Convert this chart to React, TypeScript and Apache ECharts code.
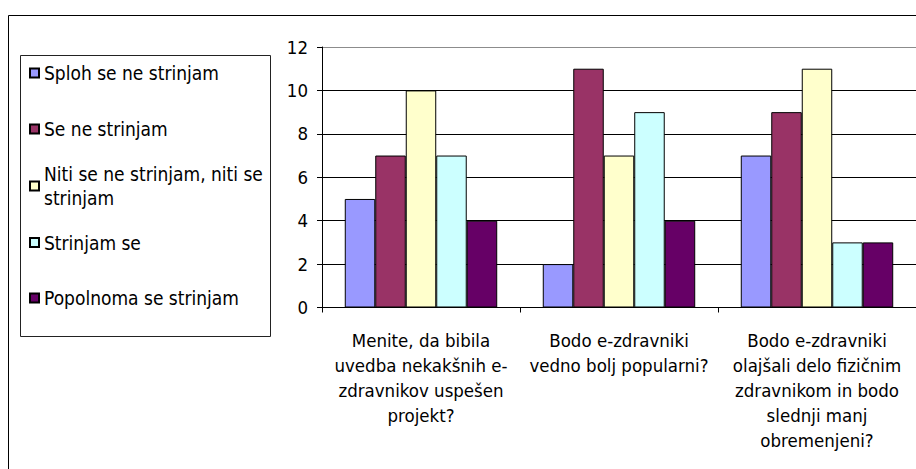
import React, { useEffect, useRef } from "react";
import * as echarts from "echarts";

// Survey questions (category axis labels, wrapped as printed)
const categories: string[] = [
  "Menite, da bibila\nuvedba nekakšnih e-\nzdravnikov uspešen\nprojekt?",
  "Bodo e-zdravniki\nvedno bolj popularni?",
  "Bodo e-zdravniki\nolajšali delo fizičnim\nzdravnikom in bodo\nslednji manj\nobremenjeni?",
];

// Answer options (series names)
const seriesNames: string[] = [
  "Sploh se ne strinjam",
  "Se ne strinjam",
  "Niti se ne strinjam, niti se strinjam",
  "Strinjam se",
  "Popolnoma se strinjam",
];

// Number of answers per option, one value per question
const splohSeNeStrinjam: number[] = [5, 2, 7];
const seNeStrinjam: number[] = [7, 11, 9];
const nitiNiti: number[] = [10, 7, 11];
const strinjamSe: number[] = [7, 9, 3];
const popolnomaSeStrinjam: number[] = [4, 4, 3];

// Value axis ticks
const yTicks: number[] = [0, 2, 4, 6, 8, 10, 12];

const seriesData: number[][] = [
  splohSeNeStrinjam,
  seNeStrinjam,
  nitiNiti,
  strinjamSe,
  popolnomaSeStrinjam,
];

const colors = ["#9999FF", "#993366", "#FFFFCC", "#CCFFFF", "#660066"];

const FONT = "Tahoma, 'DejaVu Sans Condensed', 'DejaVu Sans', sans-serif";

// Legend rows: vertical centre of each marker
const legendCenters = [73, 129, 186, 242.5, 298];
const LEGEND_LINE = 23.5;

export default function App() {
  const ref = useRef<HTMLDivElement>(null);

  useEffect(() => {
    if (!ref.current) return;
    const chart = echarts.init(ref.current, undefined, { renderer: "svg" });

    const legends = seriesNames.map((name, i) => {
      const wrapped = i === 2;
      const boxH = wrapped ? LEGEND_LINE * 3 : LEGEND_LINE;
      return {
        orient: "vertical" as const,
        left: 29,
        top: legendCenters[i] - boxH / 2,
        padding: 0,
        data: [name],
        icon: "rect",
        itemWidth: 9,
        itemHeight: 9,
        selectedMode: false,
        formatter: (n: string) =>
          n === "Niti se ne strinjam, niti se strinjam"
            ? "Niti se ne strinjam, niti se\nstrinjam"
            : n,
        textStyle: {
          color: "#000",
          fontFamily: FONT,
          fontSize: 19,
          lineHeight: LEGEND_LINE,
          padding: wrapped ? [LEGEND_LINE, 0, 0, 0] : 0,
        },
      };
    });

    chart.setOption({
      animation: false,
      backgroundColor: "#fff",
      color: colors,
      textStyle: { fontFamily: FONT },
      grid: { left: 322, top: 47, width: 597, height: 260.5, containLabel: false },
      legend: legends,
      xAxis: {
        type: "category",
        data: categories,
        axisLine: { lineStyle: { color: "#000", width: 1 } },
        axisTick: { show: true, length: 5, lineStyle: { color: "#000" } },
        axisLabel: {
          color: "#000",
          fontFamily: FONT,
          fontSize: 18.5,
          lineHeight: 25,
          margin: 20,
          interval: 0,
          align: "center",
        },
      },
      yAxis: {
        type: "value",
        min: yTicks[0],
        max: yTicks[yTicks.length - 1],
        interval: 2,
        axisLine: { show: true, lineStyle: { color: "#000", width: 1 } },
        axisTick: { show: true, length: 5, lineStyle: { color: "#000" } },
        axisLabel: { color: "#000", fontFamily: FONT, fontSize: 18.5, margin: 14 },
        splitLine: {
          show: true,
          lineStyle: {
            color: ["#000", "#000", "#000", "#000", "#000", "#000", "#8c8c8c"],
            width: 1,
          },
        },
      },
      series: seriesNames.map((name, i) => ({
        name,
        type: "bar",
        data: seriesData[i],
        barGap: "0%",
        barCategoryGap: "23%",
        itemStyle: { color: colors[i], borderColor: "#000", borderWidth: 1 },
      })),
      graphic: [
        {
          type: "rect",
          silent: true,
          shape: { x: 8.5, y: 15.5, width: 1000, height: 1000 },
          style: { fill: "none", stroke: "#000", lineWidth: 1 },
        },
        {
          type: "rect",
          silent: true,
          shape: { x: 20.5, y: 55.5, width: 250, height: 281 },
          style: { fill: "none", stroke: "#222", lineWidth: 1 },
        },
      ],
    });

    return () => chart.dispose();
  }, []);

  return (
    <div
      ref={ref}
      style={{ position: "absolute", left: 0, top: 0, width: 916, height: 469 }}
    />
  );
}
